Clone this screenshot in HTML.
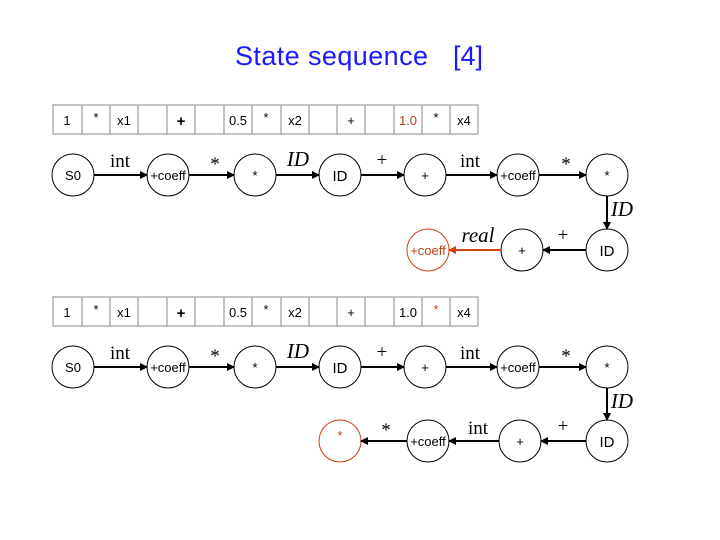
<!DOCTYPE html>
<html><head><meta charset="utf-8"><style>
html,body{margin:0;padding:0;background:#fff;}
svg{display:block;}
.t{font-family:"Liberation Sans",sans-serif;font-size:13px;}
.s{font-family:"Liberation Serif",serif;font-size:19px;}
.i{font-family:"Liberation Serif",serif;font-size:21px;font-style:italic;}
</style></head><body>
<svg width="720" height="540" viewBox="0 0 720 540" xmlns="http://www.w3.org/2000/svg">
<defs>
<marker id="a" markerWidth="8" markerHeight="8" refX="7" refY="4" orient="auto" markerUnits="userSpaceOnUse"><path d="M0,0 L8,4 L0,8 Z" fill="#000"/></marker>
<marker id="r" markerWidth="8" markerHeight="8" refX="7" refY="4" orient="auto" markerUnits="userSpaceOnUse"><path d="M0,0 L8,4 L0,8 Z" fill="#d04010"/></marker>
</defs>
<text x="235" y="65" font-family="Liberation Sans,sans-serif" font-size="27" textLength="193" fill="#1a1aff">State sequence</text>
<text x="453" y="65" font-family="Liberation Sans,sans-serif" font-size="27" fill="#1a1aff">[4]</text>

<g stroke="#888" fill="none" stroke-width="1">
<rect x="53" y="105" width="425" height="29"/>
<path d="M82 105V134M110 105V134M138 105V134M167 105V134M195 105V134M224 105V134M252 105V134M281 105V134M309 105V134M337 105V134M365 105V134M394 105V134M422 105V134M450 105V134"/>
<rect x="53" y="297" width="425" height="29"/>
<path d="M82 297V326M110 297V326M138 297V326M167 297V326M195 297V326M224 297V326M252 297V326M281 297V326M309 297V326M337 297V326M365 297V326M394 297V326M422 297V326M450 297V326"/>
</g>
<g class="t" text-anchor="middle">
<text x="67" y="125">1</text><text x="96" y="122">*</text><text x="124" y="125">x1</text><text x="181" y="126" font-weight="bold" font-size="15">+</text>
<text x="238" y="125">0.5</text><text x="266" y="122">*</text><text x="295" y="125">x2</text><text x="351" y="125">+</text>
<text x="408" y="125" fill="#c04010">1.0</text><text x="436" y="122">*</text><text x="464" y="125">x4</text>
<text x="67" y="317">1</text><text x="96" y="314">*</text><text x="124" y="317">x1</text><text x="181" y="318" font-weight="bold" font-size="15">+</text>
<text x="238" y="317">0.5</text><text x="266" y="314">*</text><text x="295" y="317">x2</text><text x="351" y="317">+</text>
<text x="408" y="317">1.0</text><text x="436" y="314" fill="#c04010">*</text><text x="464" y="317">x4</text>
</g>

<g stroke="#000" fill="none">
<circle cx="73" cy="175" r="21"/><circle cx="168" cy="175" r="21"/><circle cx="255" cy="175" r="21"/><circle cx="340" cy="175" r="21"/>
<circle cx="425" cy="175" r="21"/><circle cx="518" cy="175" r="21"/><circle cx="607" cy="175" r="21"/>
<circle cx="607" cy="250" r="21"/><circle cx="522" cy="250" r="21"/><circle cx="428" cy="250" r="21" stroke="#d04010"/>
<g stroke-width="2">
<path d="M94 175H147" marker-end="url(#a)"/><path d="M189 175H234" marker-end="url(#a)"/><path d="M276 175H319" marker-end="url(#a)"/>
<path d="M361 175H404" marker-end="url(#a)"/><path d="M446 175H497" marker-end="url(#a)"/><path d="M539 175H586" marker-end="url(#a)"/>
<path d="M607 196V229" marker-end="url(#a)"/><path d="M586 250H543" marker-end="url(#a)"/>
<path d="M501 250H449" stroke="#d04010" marker-end="url(#r)"/>
</g>
</g>
<g class="t" text-anchor="middle">
<text x="73" y="180">S0</text><text x="168" y="180">+coeff</text><text x="255" y="180">*</text><text x="340" y="181" font-size="15">ID</text>
<text x="425" y="180">+</text><text x="518" y="180">+coeff</text><text x="607" y="180">*</text>
<text x="607" y="256" font-size="15">ID</text><text x="522" y="255">+</text><text x="428" y="255" fill="#c04010">+coeff</text>
</g>
<g text-anchor="middle">
<text class="s" x="120" y="167">int</text><text class="s" x="215" y="170">*</text><text class="i" x="298" y="166">ID</text>
<text class="s" x="382" y="166" font-size="22">+</text><text class="s" x="470" y="167">int</text><text class="s" x="566" y="170">*</text>
<text class="i" x="622" y="216">ID</text><text class="s" x="563" y="241" font-size="22">+</text><text class="i" x="478" y="242" font-size="18">real</text>
</g>

<g stroke="#000" fill="none">
<circle cx="73" cy="367" r="21"/><circle cx="168" cy="367" r="21"/><circle cx="255" cy="367" r="21"/><circle cx="340" cy="367" r="21"/>
<circle cx="425" cy="367" r="21"/><circle cx="518" cy="367" r="21"/><circle cx="607" cy="367" r="21"/>
<circle cx="607" cy="441" r="21"/><circle cx="520" cy="441" r="21"/><circle cx="428" cy="441" r="21"/><circle cx="340" cy="441" r="21" stroke="#d04010"/>
<g stroke-width="2">
<path d="M94 367H147" marker-end="url(#a)"/><path d="M189 367H234" marker-end="url(#a)"/><path d="M276 367H319" marker-end="url(#a)"/>
<path d="M361 367H404" marker-end="url(#a)"/><path d="M446 367H497" marker-end="url(#a)"/><path d="M539 367H586" marker-end="url(#a)"/>
<path d="M607 388V420" marker-end="url(#a)"/><path d="M586 441H541" marker-end="url(#a)"/>
<path d="M499 441H449" marker-end="url(#a)"/><path d="M407 441H361" marker-end="url(#a)"/>
</g>
</g>
<g class="t" text-anchor="middle">
<text x="73" y="372">S0</text><text x="168" y="372">+coeff</text><text x="255" y="372">*</text><text x="340" y="373" font-size="15">ID</text>
<text x="425" y="372">+</text><text x="518" y="372">+coeff</text><text x="607" y="372">*</text>
<text x="607" y="447" font-size="15">ID</text><text x="520" y="446">+</text><text x="428" y="446">+coeff</text><text x="340" y="440" fill="#c04010">*</text>
</g>
<g text-anchor="middle">
<text class="s" x="120" y="359">int</text><text class="s" x="215" y="362">*</text><text class="i" x="298" y="358">ID</text>
<text class="s" x="382" y="358" font-size="22">+</text><text class="s" x="470" y="359">int</text><text class="s" x="566" y="362">*</text>
<text class="i" x="622" y="408">ID</text><text class="s" x="563" y="432" font-size="22">+</text><text class="s" x="478" y="434">int</text><text class="s" x="386" y="436">*</text>
</g>
</svg>
</body></html>
